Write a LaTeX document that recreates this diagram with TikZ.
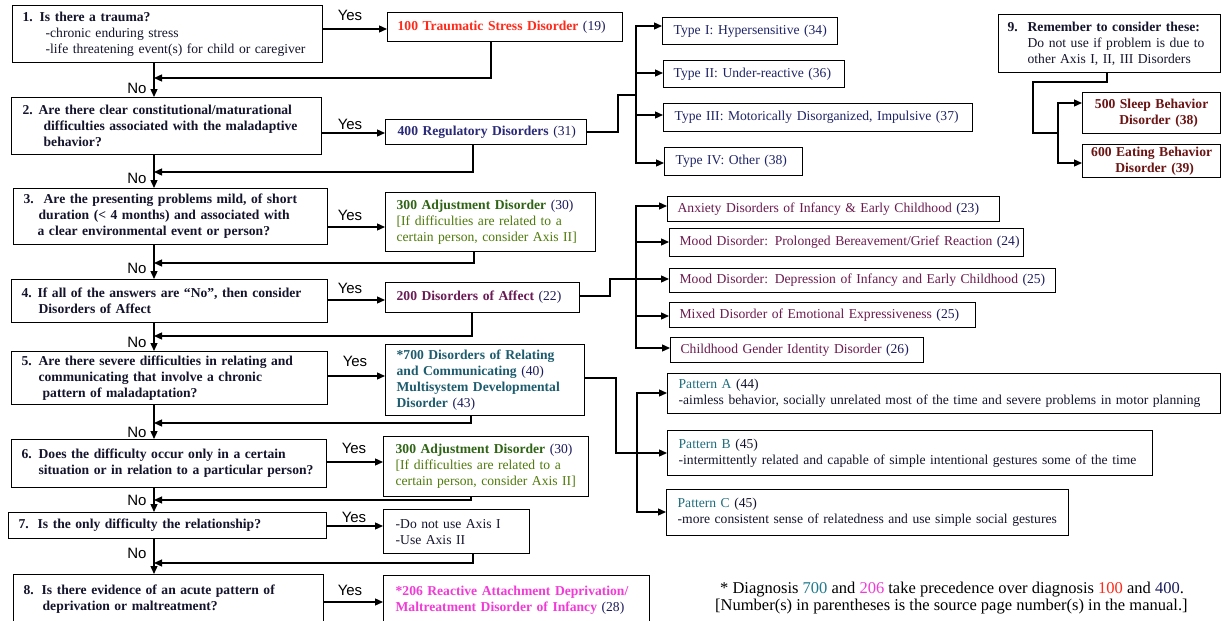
\documentclass[tikz,border=0pt]{standalone}
\usepackage{fontspec}
\setmainfont{Liberation Serif}
\newfontfamily\labelfont{Liberation Sans}
\usetikzlibrary{arrows.meta}

\definecolor{ink}{HTML}{14142C}
\definecolor{navy}{HTML}{1C1C5C}
\definecolor{tsdred}{HTML}{FF2A1A}
\definecolor{regblue}{HTML}{2A2A78}
\definecolor{adjgreen}{HTML}{2E6414}
\definecolor{adjolive}{HTML}{4F7A0A}
\definecolor{affpurple}{HTML}{6A1A55}
\definecolor{subpurple}{HTML}{6B1A4E}
\definecolor{relteal}{HTML}{1D5C6E}
\definecolor{noteteal}{HTML}{1F7A8C}
\definecolor{ramag}{HTML}{F23BD6}
\definecolor{maroon}{HTML}{6A1414}
\definecolor{typenavy}{HTML}{1F2466}
\definecolor{patteal}{HTML}{1F6D7D}

\tikzset{
  cell/.style={draw=black, line width=1.3pt, fill=white, inner ysep=0pt,
    align=left, font=\fontsize{13.6}{16}\selectfont, text=ink},
  link/.style={line width=1.3pt},
  arr/.style={link, -{Triangle[length=8pt,width=7pt]}},
  yn/.style={font=\labelfont\fontsize{15}{15}\selectfont, inner sep=0pt, text=black},
  note/.style={font=\fontsize{16.5}{18}\selectfont, inner sep=0pt, anchor=base west, text=black},
}

% box from its corner coordinates: name, x1, y1, x2, y2, side padding, options, text
\newcommand{\flowbox}[8]{%
  \pgfmathsetmacro{\fbw}{#4-#2}%
  \pgfmathsetmacro{\fbh}{#5-#3}%
  \pgfmathsetmacro{\fbt}{#4-#2-2*#6}%
  \node[cell,#7,anchor=north west,inner xsep=#6pt,text width=\fbt pt,
        minimum width=\fbw pt,minimum height=\fbh pt] (#1) at (#2,#3) {#8};%
}
\newcommand{\oneline}[1]{\mbox{#1}}
\newcommand{\qnum}[2]{\makebox[#2pt][l]{#1}}

\begin{document}
\begin{tikzpicture}[x=1pt,y=-1pt]
\useasboundingbox (0,0) rectangle (1229,621);
\fill[white] (0,0) rectangle (1229,621);
\clip (0,0) rectangle (1229,621);

% ---------- question column ----------
\flowbox{q1}{12}{5}{322}{62}{10}{}{\oneline{\textbf{\qnum{1.}{17}Is there a trauma?}}\\
  \oneline{\hspace*{23pt}-chronic enduring stress}\\
  \oneline{\hspace*{23pt}-life threatening event(s) for child or caregiver}}
\flowbox{q2}{11}{97}{321}{154}{11}{font=\bfseries\fontsize{13.6}{16}\selectfont}{%
  \oneline{\qnum{2.}{16}Are there clear constitutional/maturational}\\
  \oneline{\hspace*{21pt}difficulties associated with the maladaptive}\\
  \oneline{\hspace*{21pt}behavior?}}
\flowbox{q3}{13}{188}{327}{244}{10}{font=\bfseries\fontsize{13.6}{16}\selectfont}{%
  \oneline{\qnum{3.}{20}Are the presenting problems mild, of short}\\
  \oneline{\hspace*{15pt}duration (< 4 months) and associated with}\\
  \oneline{\hspace*{14pt}a clear environmental event or person?}}
\flowbox{q4}{11}{279}{327}{322}{10}{font=\bfseries\fontsize{13.6}{16}\selectfont}{%
  \oneline{\qnum{4.}{16}If all of the answers are “No”, then consider}\\
  \oneline{\hspace*{17pt}Disorders of Affect}}
\flowbox{q5}{11}{351}{327}{404}{10}{font=\bfseries\fontsize{13.6}{16}\selectfont}{%
  \oneline{\qnum{5.}{17}Are there severe difficulties in relating and}\\
  \oneline{\hspace*{17pt}communicating that involve a chronic}\\
  \oneline{\hspace*{21pt}pattern of maladaptation?}}
\flowbox{q6}{11}{439}{326}{487}{10}{font=\bfseries\fontsize{13.6}{16}\selectfont}{%
  \oneline{\qnum{6.}{17}Does the difficulty occur only in a certain}\\
  \oneline{\hspace*{17pt}situation or in relation to a particular person?}}
\flowbox{q7}{8}{512}{326}{538}{10}{font=\bfseries\fontsize{13.6}{16}\selectfont}{%
  \oneline{\qnum{7.}{19}Is the only difficulty the relationship?}}
\flowbox{q8}{13}{574}{323}{624}{10}{font=\bfseries\fontsize{13.6}{16}\selectfont}{%
  \oneline{\qnum{8.}{18}Is there evidence of an acute pattern of}\\
  \oneline{\hspace*{19pt}deprivation or maltreatment?}}

% ---------- diagnosis column ----------
\flowbox{d100}{387}{12}{622}{41}{10}{text=navy}{%
  \oneline{\textbf{\color{tsdred}100 Traumatic Stress Disorder} (19)}}
\flowbox{d400}{385}{119}{586}{144}{12}{text=navy}{%
  \oneline{\textbf{\color{regblue}400 Regulatory Disorders} (31)}}
\flowbox{d300a}{385}{192}{595}{251}{11}{text=navy}{%
  \oneline{\textbf{\color{adjgreen}300 Adjustment Disorder} (30)}\\
  \oneline{\color{adjolive}[If difficulties are related to a}\\
  \oneline{\color{adjolive}certain person, consider Axis II]}}
\flowbox{d200}{385}{282}{579}{312}{11}{text=navy}{%
  \oneline{\textbf{\color{affpurple}200 Disorders of Affect} (22)}}
\flowbox{d700}{385}{344}{584}{415}{11}{text=navy}{%
  \oneline{\textbf{\color{relteal}*700 Disorders of Relating}}\\
  \oneline{\textbf{\color{relteal}and Communicating} (40)}\\
  \oneline{\textbf{\color{relteal}Multisystem Developmental}}\\
  \oneline{\textbf{\color{relteal}Disorder} (43)}}
\flowbox{d300b}{383}{436}{588}{496}{12}{text=navy}{%
  \oneline{\textbf{\color{adjgreen}300 Adjustment Disorder} (30)}\\
  \oneline{\color{adjolive}[If difficulties are related to a}\\
  \oneline{\color{adjolive}certain person, consider Axis II]}}
\flowbox{axis}{383}{509}{529}{553}{12}{text=ink}{%
  \oneline{-Do not use Axis I}\\
  \oneline{-Use Axis II}}
\flowbox{d206}{383}{575}{649}{624}{12}{text=navy}{%
  \oneline{\textbf{\color{ramag}*206 Reactive Attachment Deprivation/}}\\
  \oneline{\textbf{\color{ramag}Maltreatment Disorder of Infancy} (28)}}

% ---------- regulatory subtypes ----------
\flowbox{t1}{662}{17}{837}{44}{11}{text=typenavy}{\oneline{Type I: Hypersensitive (34)}}
\flowbox{t2}{663}{60}{844}{87}{10}{text=typenavy}{\oneline{Type II: Under-reactive (36)}}
\flowbox{t3}{663}{103}{972}{131}{11}{text=typenavy}{\oneline{Type III: Motorically Disorganized, Impulsive (37)}}
\flowbox{t4}{664}{147}{802}{175}{11}{text=typenavy}{\oneline{Type IV: Other (38)}}

% ---------- affect subtypes ----------
\flowbox{a1}{667}{196}{999}{221}{10}{text=navy}{\oneline{{\color{subpurple}Anxiety Disorders of Infancy \& Early Childhood} (23)}}
\flowbox{a2}{669}{228}{1023}{256}{10}{text=navy}{\oneline{{\color{subpurple}Mood Disorder: Prolonged Bereavement/Grief Reaction} (24)}}
\flowbox{a3}{669}{268}{1055}{292}{10}{text=navy}{\oneline{{\color{subpurple}Mood Disorder: Depression of Infancy and Early Childhood} (25)}}
\flowbox{a4}{669}{302}{975}{327}{10}{text=navy}{\oneline{{\color{subpurple}Mixed Disorder of Emotional Expressiveness} (25)}}
\flowbox{a5}{670}{337}{923}{362}{10}{text=navy}{\oneline{{\color{subpurple}Childhood Gender Identity Disorder} (26)}}

% ---------- relating patterns ----------
\flowbox{pA}{667}{373}{1220}{413}{11}{text=ink}{%
  \oneline{{\color{patteal}Pattern A} (44)}\\
  \oneline{-aimless behavior, socially unrelated most of the time and severe problems in motor planning}}
\flowbox{pB}{667}{430}{1152}{475}{11}{text=ink}{%
  \oneline{{\color{patteal}Pattern B} (45)}\\
  \oneline{-intermittently related and capable of simple intentional gestures some of the time}}
\flowbox{pC}{666}{489}{1068}{535}{11}{text=ink}{%
  \oneline{{\color{patteal}Pattern C} (45)}\\
  \oneline{-more consistent sense of relatedness and use simple social gestures}}

% ---------- reminder group ----------
\flowbox{n9}{998}{14}{1220}{72}{9}{text=ink}{%
  \oneline{\textbf{\qnum{9.}{20}Remember to consider these:}}\\
  \oneline{\hspace*{20pt}Do not use if problem is due to}\\
  \oneline{\hspace*{20pt}other Axis I, II, III Disorders}}
\flowbox{d500}{1082}{92}{1220}{133}{4}{align=center,text=maroon,font=\bfseries\fontsize{13.6}{16}\selectfont}{%
  \oneline{500 Sleep Behavior}\\ \oneline{\hspace*{14pt}Disorder (38)}}
\flowbox{d600}{1082}{144}{1220}{177}{4}{align=center,text=maroon,font=\bfseries\fontsize{13.6}{16}\selectfont}{%
  \oneline{600 Eating Behavior}\\ \oneline{\hspace*{6pt}Disorder (39)}}

% ---------- main "No" spine ----------
\coordinate (sp) at (154,0);
\draw[arr] (q1.south -| sp) -- (q2.north -| sp);
\draw[arr] (q2.south -| sp) -- (q3.north -| sp);
\draw[arr] (q3.south -| sp) -- (q4.north -| sp);
\draw[arr] (q4.south -| sp) -- (q5.north -| sp);
\draw[arr] (q5.south -| sp) -- (q6.north -| sp);
\draw[arr] (q6.south -| sp) -- (q7.north -| sp);
\draw[arr] (q7.south -| sp) -- (q8.north -| sp);

% ---------- "Yes" branches ----------
\draw[arr] (q1.east |- 0,29)  -- (d100.west |- 0,29);
\draw[arr] (q2.east |- 0,133) -- (d400.west |- 0,133);
\draw[arr] (q3.east |- 0,227) -- (d300a.west |- 0,227);
\draw[arr] (q4.east |- 0,300) -- (d200.west |- 0,300);
\draw[arr] (q5.east |- 0,376) -- (d700.west |- 0,376);
\draw[arr] (q6.east |- 0,462) -- (d300b.west |- 0,462);
\draw[arr] (q7.east |- 0,526) -- (axis.west |- 0,526);
\draw[arr] (q8.east |- 0,602) -- (d206.west |- 0,602);

% ---------- returns to the spine ----------
\draw[arr] (d100.south -| 491,0)  |- (sp |- 0,78);
\draw[arr] (d400.south -| 473,0)  |- (sp |- 0,172);
\draw[arr] (d300a.south -| 474,0) |- (sp |- 0,263);
\draw[arr] (d200.south -| 472,0)  |- (sp |- 0,336);
\draw[arr] (d700.south -| 471,0)  |- (sp |- 0,423);
\draw[arr] (d300b.south -| 471,0) |- (sp |- 0,500);
\draw[arr] (axis.south -| 473,0)  |- (sp |- 0,563);

% ---------- regulatory tree ----------
\coordinate (rk) at (636,0);
\draw[link] (d400.east |- 0,132) -| (618,95) -- (rk |- 0,95);
\draw[arr] (rk |- 0,95) |- (t1.west |- 0,26);
\draw[arr] (rk |- 0,95) |- (t4.west |- 0,163);
\draw[arr] (rk |- 0,73)  -- (t2.west |- 0,73);
\draw[arr] (rk |- 0,115) -- (t3.west |- 0,115);

% ---------- affect tree ----------
\coordinate (ak) at (636,0);
\draw[link] (d200.east |- 0,296) -| (610,279) -- (ak |- 0,279);
\draw[arr] (ak |- 0,279) |- (a1.west |- 0,206);
\draw[arr] (ak |- 0,279) |- (a5.west |- 0,348);
\draw[arr] (ak |- 0,242) -- (a2.west |- 0,242);
\draw[arr] (ak |- 0,279) -- (a3.west |- 0,279);
\draw[arr] (ak |- 0,316) -- (a4.west |- 0,316);

% ---------- relating tree ----------
\coordinate (pk) at (637,0);
\draw[arr] (d700.east |- 0,378) -| (616,453) -- (pB.west |- 0,453);
\draw[arr] (pk |- 0,453) |- (pA.west |- 0,393);
\draw[arr] (pk |- 0,453) |- (pC.west |- 0,512);

% ---------- reminder tree ----------
\coordinate (sk) at (1058,0);
\draw[link] (n9.south -| 1107,0) |- (1033,82) |- (sk |- 0,133);
\draw[arr] (sk |- 0,133) |- (d500.west |- 0,103);
\draw[arr] (sk |- 0,133) |- (d600.west |- 0,163);

% ---------- Yes / No labels ----------
\node[yn] (yes1) at (350,15)  {Yes};
\node[yn] (yes2) at (350,124) {Yes};
\node[yn] (yes3) at (350,215) {Yes};
\node[yn] (yes4) at (350,288) {Yes};
\node[yn] (yes5) at (355,361) {Yes};
\node[yn] (yes6) at (354,448) {Yes};
\node[yn] (yes7) at (354,517) {Yes};
\node[yn] (yes8) at (350,590) {Yes};

\node[yn] (no1) at (137,88)  {No};
\node[yn] (no2) at (137,178) {No};
\node[yn] (no3) at (137,268) {No};
\node[yn] (no4) at (137,342) {No};
\node[yn] (no5) at (137,432) {No};
\node[yn] (no6) at (137,500) {No};
\node[yn] (no7) at (137,553) {No};

% ---------- footnote ----------
\node[note] (fn1) at (720,593) {* Diagnosis {\color{noteteal}700} and {\color{ramag}206} take precedence over diagnosis {\color{tsdred}100} and {\color{navy}400}.};
\node[note] (fn2) at (715,610) {[Number(s) in parentheses is the source page number(s) in the manual.]};
\end{tikzpicture}
\end{document}
